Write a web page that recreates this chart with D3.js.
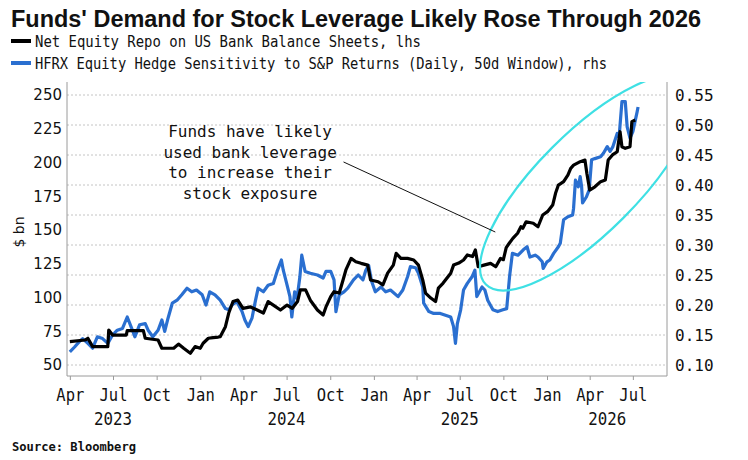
<!DOCTYPE html>
<html>
<head>
<meta charset="utf-8">
<script src="https://cdn.jsdelivr.net/npm/d3@7"></script>
<style>
  body { margin: 0; background: #fff; }
  text { fill: #111; }
</style>
</head>
<body>
<svg id="chart" width="748" height="460"></svg>
<script>
// Net equity repo on US bank balance sheets ($ bn, left axis)
const repoDates = [
  "2023-04-01","2023-05-03","2023-05-09","2023-05-19","2023-06-20","2023-06-22","2023-06-30","2023-07-29",
  "2023-07-31","2023-09-03","2023-09-07","2023-10-04","2023-10-12","2023-11-06","2023-11-16","2023-11-27",
  "2023-12-11","2023-12-21","2024-01-01","2024-01-07","2024-01-18","2024-01-28","2024-02-08","2024-02-12",
  "2024-02-23","2024-03-01","2024-03-10","2024-03-20","2024-03-31","2024-04-16","2024-04-30","2024-05-13",
  "2024-05-23","2024-06-03","2024-06-18","2024-07-02","2024-07-13","2024-07-24","2024-07-30","2024-08-10",
  "2024-08-20","2024-09-04","2024-09-16","2024-09-22","2024-10-02","2024-10-09","2024-10-20","2024-10-28",
  "2024-11-03","2024-11-14","2024-11-24","2024-12-05","2024-12-19","2024-12-25","2025-01-10","2025-01-20",
  "2025-01-30","2025-02-11","2025-02-17","2025-02-27","2025-03-13","2025-03-26","2025-04-05","2025-04-14",
  "2025-04-20","2025-05-01","2025-05-11","2025-05-17","2025-05-27","2025-06-12","2025-06-18","2025-06-29",
  "2025-07-09","2025-07-17","2025-07-28","2025-08-03","2025-08-09","2025-08-21","2025-09-04","2025-09-15",
  "2025-09-25","2025-10-01","2025-10-07","2025-10-13","2025-10-21","2025-10-31","2025-11-07","2025-11-11",
  "2025-11-18","2025-12-03","2025-12-13","2025-12-23","2026-01-02","2026-01-13","2026-01-19","2026-01-25",
  "2026-02-05","2026-02-14","2026-02-20","2026-02-26","2026-03-12","2026-03-22","2026-03-26","2026-04-01",
  "2026-04-12","2026-04-24","2026-05-04","2026-05-10","2026-05-19","2026-05-29","2026-06-04","2026-06-08",
  "2026-06-15","2026-06-25","2026-06-29","2026-07-06"
];
const repoValues = [
  67.3, 68.5, 69.8, 63.6, 63.6, 75.9, 72.2, 72.2,
  75.4, 75.4, 69.8, 68.5, 62.4, 62.4, 65.5, 62.4,
  58.7, 63.6, 62.4, 66.1, 69.8, 70.3, 70.7, 71,
  78.4, 88.5, 97, 98.1, 92, 93, 90.7, 88.5,
  97, 94.4, 90.7, 94.4, 92, 97, 105.6, 105.6,
  98, 90.7, 87, 93, 100.6, 104.3, 103.3, 113,
  120.4, 129, 126.5, 125.3, 124, 113, 111.7, 109.3,
  118, 124, 132.7, 129, 129, 127.8, 124, 113,
  103.3, 99.6, 97, 107, 110.7, 118, 124, 125.5,
  127.8, 131.5, 130.3, 135.2, 122.8, 124, 125.3, 122.8,
  129, 128, 137, 140, 143.8, 147.6, 152.4, 151.3,
  156.1, 155, 152.4, 161.1, 163.6, 168.5, 177.2, 183.3,
  185.8, 190.7, 195.7, 198, 200.6, 201.8, 192, 179.6,
  182, 185.8, 187, 201.8, 205.6, 208, 222.8, 211.7,
  210.5, 211.7, 230.3, 231.5
];

// HFRX Equity Hedge sensitivity to S&P returns (right axis)
const hfrxDates = [
  "2023-04-01","2023-04-11","2023-04-21","2023-04-28","2023-05-09","2023-05-19","2023-05-29","2023-06-09",
  "2023-06-20","2023-06-30","2023-07-10","2023-07-21","2023-07-31","2023-08-09","2023-08-16","2023-08-26",
  "2023-09-07","2023-09-13","2023-09-23","2023-10-04","2023-10-12","2023-10-18","2023-10-25","2023-11-03",
  "2023-11-13","2023-11-23","2023-12-04","2023-12-14","2023-12-24","2024-01-05","2024-01-13","2024-01-21",
  "2024-02-01","2024-02-12","2024-02-23","2024-03-01","2024-03-08","2024-03-18","2024-03-29","2024-04-04",
  "2024-04-11","2024-04-19","2024-04-26","2024-05-02","2024-05-13","2024-05-23","2024-06-03","2024-06-11",
  "2024-06-20","2024-06-24","2024-07-02","2024-07-08","2024-07-12","2024-07-18","2024-07-23","2024-07-29",
  "2024-08-02","2024-08-09","2024-08-20","2024-09-04","2024-09-16","2024-09-22","2024-10-02","2024-10-09",
  "2024-10-13","2024-10-20","2024-10-30","2024-11-07","2024-11-19","2024-11-29","2024-12-09","2024-12-15",
  "2024-12-21","2024-12-27","2025-01-04","2025-01-16","2025-01-26","2025-02-05","2025-02-21","2025-03-03",
  "2025-03-13","2025-03-19","2025-03-30","2025-04-05","2025-04-14","2025-04-16","2025-04-27","2025-05-07",
  "2025-05-21","2025-06-01","2025-06-12","2025-06-18","2025-06-22","2025-06-26","2025-07-03","2025-07-09",
  "2025-07-17","2025-07-27","2025-08-02","2025-08-06","2025-08-17","2025-08-23","2025-08-29","2025-09-09",
  "2025-09-19","2025-09-30","2025-10-08","2025-10-14","2025-10-20","2025-11-01","2025-11-12","2025-11-20",
  "2025-11-26","2025-12-07","2025-12-13","2025-12-22","2025-12-24","2026-01-01","2026-01-07","2026-01-15",
  "2026-01-25","2026-01-29","2026-02-05","2026-02-14","2026-02-24","2026-02-26","2026-03-02","2026-03-08",
  "2026-03-12","2026-03-15","2026-03-17","2026-03-25","2026-03-31","2026-04-05","2026-04-12","2026-04-24",
  "2026-04-30","2026-05-08","2026-05-14","2026-05-20","2026-05-29","2026-06-02","2026-06-08","2026-06-15",
  "2026-06-19","2026-06-25","2026-07-01","2026-07-10","2026-07-12"
];
const hfrxValues = [
  0.122, 0.130, 0.139, 0.144, 0.136, 0.128, 0.147, 0.144,
  0.136, 0.150, 0.158, 0.161, 0.180, 0.162, 0.147, 0.167,
  0.169, 0.158, 0.147, 0.158, 0.175, 0.156, 0.178, 0.203,
  0.208, 0.217, 0.228, 0.222, 0.225, 0.217, 0.200, 0.222,
  0.217, 0.208, 0.194, 0.192, 0.200, 0.206, 0.189, 0.175,
  0.164, 0.178, 0.206, 0.228, 0.222, 0.233, 0.236, 0.256,
  0.275, 0.258, 0.233, 0.214, 0.180, 0.222, 0.211, 0.247,
  0.283, 0.256, 0.253, 0.250, 0.245, 0.256, 0.256, 0.242,
  0.189, 0.217, 0.222, 0.228, 0.242, 0.250, 0.242, 0.258,
  0.266, 0.240, 0.222, 0.230, 0.222, 0.225, 0.214, 0.225,
  0.247, 0.264, 0.262, 0.253, 0.230, 0.203, 0.189, 0.186,
  0.186, 0.183, 0.180, 0.164, 0.136, 0.169, 0.192, 0.225,
  0.236, 0.247, 0.258, 0.214, 0.230, 0.225, 0.208, 0.192,
  0.189, 0.192, 0.194, 0.247, 0.286, 0.283, 0.292, 0.297,
  0.280, 0.283, 0.280, 0.272, 0.261, 0.272, 0.275, 0.286,
  0.297, 0.303, 0.342, 0.347, 0.350, 0.361, 0.408, 0.397,
  0.414, 0.397, 0.370, 0.380, 0.392, 0.442, 0.444, 0.447,
  0.453, 0.464, 0.456, 0.464, 0.486, 0.480, 0.539, 0.539,
  0.497, 0.478, 0.489, 0.522, 0.530
];

const quarterTicks = [
  "2023-04-01","2023-07-01","2023-10-01","2024-01-01","2024-04-01","2024-07-01","2024-10-01",
  "2025-01-01","2025-04-01","2025-07-01","2025-10-01","2026-01-01","2026-04-01","2026-07-01"
];
const yearLabels = ["2023", "2024", "2025", "2026"];
const yearCenters = ["2023-07-01", "2024-07-01", "2025-07-01", "2026-05-08"];
const leftTicks = [50, 75, 100, 125, 150, 175, 200, 225, 250];
const rightTicks = [0.10, 0.15, 0.20, 0.25, 0.30, 0.35, 0.40, 0.45, 0.50, 0.55];

const noteLines = ["Funds have likely", "used bank leverage", "to increase their", "stock exposure"];

const parse = d3.timeParse("%Y-%m-%d");
const repo = repoDates.map((d, i) => ({ date: parse(d), value: repoValues[i] }));
const hfrx = hfrxDates.map((d, i) => ({ date: parse(d), value: hfrxValues[i] }));

const plotLeft = 67, plotRight = 667, plotTop = 82, plotBottom = 376;

const svg = d3.select("#chart");

const x = d3.scaleTime()
  .domain([parse("2023-03-26"), parse("2026-09-11")])
  .range([plotLeft, plotRight]);
const yL = d3.scaleLinear().domain([50, 250]).range([365, 95]);
const yR = d3.scaleLinear().domain([0.10, 0.55]).range([365, 95]);

// title (stretched a little vertically, like the original's heavy face)
svg.append("text")
  .attr("transform", "translate(11,27) scale(1,1.15)")
  .attr("font-family", "Liberation Sans").attr("font-weight", "bold")
  .attr("font-size", 20)
  .attr("textLength", 690).attr("lengthAdjust", "spacingAndGlyphs")
  .text("Funds' Demand for Stock Leverage Likely Rose Through 2026");

const legend = [
  { label: "Net Equity Repo on US Bank Balance Sheets, lhs", color: "#000", len: 386 },
  { label: "HFRX Equity Hedge Sensitivity to S&P Returns (Daily, 50d Window), rhs", color: "#2a6fd0", len: 572 }
];
legend.forEach((d, i) => {
  const ly = 41 + i * 22;
  svg.append("line")
    .attr("x1", 11).attr("x2", 31).attr("y1", ly).attr("y2", ly)
    .attr("stroke", d.color).attr("stroke-width", 4);
  svg.append("text")
    .attr("x", 35).attr("y", ly + 6)
    .attr("font-family", "DejaVu Sans Mono").attr("font-size", 16)
    .attr("textLength", d.len).attr("lengthAdjust", "spacingAndGlyphs")
    .text(d.label);
});

// grid (from right axis)
svg.append("g")
  .selectAll("line")
  .data(rightTicks)
  .join("line")
  .attr("x1", plotLeft).attr("x2", plotRight)
  .attr("y1", d => yR(d)).attr("y2", d => yR(d))
  .attr("stroke", "#c4c4c4").attr("stroke-width", 1)
  .attr("stroke-dasharray", "2,2");

// frame
const frame = svg.append("g").attr("stroke", "#9a9a9a").attr("stroke-width", 1);
frame.append("line").attr("x1", plotLeft).attr("x2", plotLeft).attr("y1", plotTop).attr("y2", plotBottom);
frame.append("line").attr("x1", plotRight).attr("x2", plotRight).attr("y1", plotTop).attr("y2", plotBottom);
frame.append("line").attr("x1", plotLeft).attr("x2", plotRight).attr("y1", plotBottom).attr("y2", plotBottom);

// left axis
svg.append("g")
  .attr("transform", `translate(${plotLeft},0)`)
  .call(d3.axisLeft(yL).tickValues(leftTicks).tickSize(0).tickPadding(5))
  .call(g => g.select(".domain").remove())
  .call(g => g.selectAll("text")
    .attr("font-family", "DejaVu Sans").attr("font-size", 15).attr("fill", "#111"));

// right axis
svg.append("g")
  .attr("transform", `translate(${plotRight},0)`)
  .call(d3.axisRight(yR).tickValues(rightTicks).tickFormat(d3.format(".2f")).tickSize(0).tickPadding(8))
  .call(g => g.select(".domain").remove())
  .call(g => g.selectAll("text")
    .attr("font-family", "DejaVu Sans Mono").attr("font-size", 16).attr("fill", "#111"));

// bottom axis
svg.append("g")
  .attr("transform", `translate(0,${plotBottom})`)
  .call(d3.axisBottom(x).tickValues(quarterTicks.map(parse)).tickFormat(d3.timeFormat("%b"))
    .tickSize(4).tickPadding(9))
  .call(g => g.select(".domain").remove())
  .call(g => g.selectAll("line").attr("stroke", "#9a9a9a"))
  .call(g => g.selectAll("text")
    .attr("font-family", "DejaVu Sans Mono").attr("font-size", 17).attr("fill", "#111")
    .attr("textLength", 28).attr("lengthAdjust", "spacingAndGlyphs"));

svg.append("g")
  .selectAll("text")
  .data(yearLabels)
  .join("text")
  .attr("x", (d, i) => x(parse(yearCenters[i])))
  .attr("y", 425)
  .attr("text-anchor", "middle")
  .attr("font-family", "DejaVu Sans Mono").attr("font-size", 17)
  .attr("textLength", 38).attr("lengthAdjust", "spacingAndGlyphs")
  .text(d => d);

// y label
svg.append("text")
  .attr("transform", "translate(24,232) rotate(-90)")
  .attr("text-anchor", "middle")
  .attr("font-family", "DejaVu Sans").attr("font-size", 14)
  .text("$ bn");

// series
svg.append("path")
  .datum(hfrx)
  .attr("fill", "none")
  .attr("stroke", "#2a6fd0")
  .attr("stroke-width", 3.2)
  .attr("stroke-linejoin", "round")
  .attr("d", d3.line().x(d => x(d.date)).y(d => yR(d.value)));

svg.append("path")
  .datum(repo)
  .attr("fill", "none")
  .attr("stroke", "#000")
  .attr("stroke-width", 3.2)
  .attr("stroke-linejoin", "round")
  .attr("d", d3.line().x(d => x(d.date)).y(d => yL(d.value)));

// annotation: highlight ellipse, clipped to the plot
svg.append("clipPath").attr("id", "plotClip")
  .append("rect").attr("x", plotLeft).attr("y", plotTop)
  .attr("width", plotRight - plotLeft).attr("height", plotBottom - plotTop);

const ecx = x(parse("2026-03-28")), ecy = yL(185);
svg.append("g")
  .attr("clip-path", "url(#plotClip)")
  .append("ellipse")
  .attr("transform", `translate(${ecx},${ecy}) rotate(-45)`)
  .attr("rx", 144).attr("ry", 50)
  .attr("fill", "none")
  .attr("stroke", "#3fe0e4")
  .attr("stroke-width", 2.2);

svg.append("line")
  .attr("x1", x(parse("2024-10-29"))).attr("y1", yL(200.4))
  .attr("x2", x(parse("2025-09-14"))).attr("y2", yL(148.5))
  .attr("stroke", "#111").attr("stroke-width", 1);

const noteX = x(parse("2024-04-15"));
svg.append("g")
  .selectAll("text")
  .data(noteLines)
  .join("text")
  .attr("x", noteX)
  .attr("y", (d, i) => 137 + i * 20.5)
  .attr("text-anchor", "middle")
  .attr("font-family", "DejaVu Sans Mono").attr("font-size", 16)
  .text(d => d);

// source
svg.append("text")
  .attr("x", 12).attr("y", 451)
  .attr("font-family", "DejaVu Sans Mono").attr("font-weight", "bold")
  .attr("font-size", 13)
  .attr("textLength", 124).attr("lengthAdjust", "spacingAndGlyphs")
  .text("Source: Bloomberg");
</script>
</body>
</html>
